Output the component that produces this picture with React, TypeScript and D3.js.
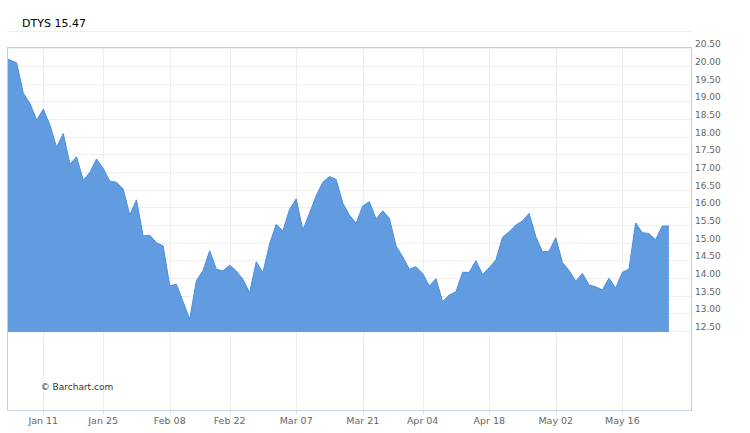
import React from "react";
import * as d3 from "d3";

const title = "DTYS 15.47";
const credit = "© Barchart.com";

// Daily closes, trading days from Dec 31 2015 to May 25 2016
const values = [
  20.25, 20.17, 20.09, 19.23, 18.94, 18.47, 18.78, 18.33, 17.7, 18.09,
  17.22, 17.43, 16.77, 16.99, 17.37, 17.1, 16.74, 16.71, 16.52, 15.78,
  16.21, 15.19, 15.21, 15.0, 14.91, 13.78, 13.82, 13.33, 12.83, 13.92,
  14.21, 14.77, 14.25, 14.2, 14.36, 14.2, 13.96, 13.58, 14.46, 14.15,
  14.96, 15.52, 15.33, 15.94, 16.24, 15.36, 15.83, 16.33, 16.71, 16.87,
  16.79, 16.12, 15.78, 15.55, 16.04, 16.16, 15.67, 15.9, 15.69, 14.91,
  14.6, 14.25, 14.32, 14.13, 13.77, 13.98, 13.33, 13.52, 13.61, 14.16,
  14.16, 14.49, 14.1, 14.29, 14.51, 15.15, 15.31, 15.5, 15.61, 15.83,
  15.17, 14.74, 14.76, 15.14, 14.44, 14.21, 13.91, 14.13, 13.8, 13.75,
  13.66, 13.99, 13.71, 14.16, 14.25, 15.56, 15.28, 15.26, 15.08, 15.47,
  15.47,
];

const tickLabels = ["Jan 11", "Jan 25", "Feb 08", "Feb 22", "Mar 07", "Mar 21", "Apr 04", "Apr 18", "May 02", "May 16"];
const tickIndex = [6, 15, 25, 34, 44, 54, 63, 73, 83, 93];

const yTicks = d3.range(12.5, 20.51, 0.5);

const W = 750;
const H = 433;
const left = 7;
const right = 691;
const top = 47;
const priceBottom = 332;
const bottom = 410;

export default function App() {
  const x = d3.scaleLinear().domain([0, values.length - 1]).range([3.37, 668.9]);
  const y = d3.scaleLinear().domain([12.47, 20.54]).range([priceBottom, top]);

  const area = d3
    .area<number>()
    .x((_, i) => x(i))
    .y0(priceBottom)
    .y1((d) => y(d));
  const line = d3
    .line<number>()
    .x((_, i) => x(i))
    .y((d) => y(d));

  const font = "'DejaVu Sans', Verdana, sans-serif";

  return (
    <div style={{ position: "absolute", left: 0, top: 0 }}>
      <svg width={W} height={H} style={{ display: "block", background: "#fff" }}>
        <defs>
          <clipPath id="plotClip">
            <rect x={left} y={top} width={right - left} height={bottom - top} />
          </clipPath>
        </defs>
        <text x={22} y={26.5} fontFamily={font} fontSize={11} fill="#000">
          {title}
        </text>
        <line x1={left} x2={692} y1={31.5} y2={31.5} stroke="#eeeeee" />

        {/* horizontal grid */}
        {yTicks.map((t) => (
          <line
            key={"h" + t}
            x1={left}
            x2={right}
            y1={Math.round(y(t)) + 0.5}
            y2={Math.round(y(t)) + 0.5}
            stroke="#efefef"
          />
        ))}
        {/* vertical grid */}
        {tickIndex.map((ti) => (
          <line
            key={"v" + ti}
            x1={Math.round(x(ti)) + 0.5}
            x2={Math.round(x(ti)) + 0.5}
            y1={top}
            y2={bottom}
            stroke="#efefef"
          />
        ))}
        {tickIndex.map((ti) => (
          <line
            key={"t" + ti}
            x1={Math.round(x(ti)) + 0.5}
            x2={Math.round(x(ti)) + 0.5}
            y1={bottom}
            y2={bottom + 4}
            stroke="#d4e0ec"
          />
        ))}

        <g clipPath="url(#plotClip)">
          <path d={area(values) || ""} fill="#629ce0" />
          <path d={line(values) || ""} fill="none" stroke="#4a8ede" strokeWidth={1} />
        </g>

        {/* frame */}
        <line x1={left + 0.5} x2={left + 0.5} y1={top} y2={bottom} stroke="#cccccc" />
        <line x1={left} x2={right + 1} y1={top + 0.5} y2={top + 0.5} stroke="#cccccc" />
        <line x1={right + 0.5} x2={right + 0.5} y1={top} y2={bottom} stroke="#cccccc" />
        <line x1={left} x2={right + 1} y1={bottom + 0.5} y2={bottom + 0.5} stroke="#c3d4e6" />

        {/* y labels */}
        {yTicks.map((t) => (
          <text key={"yl" + t} x={695} y={y(t) - 1} fontFamily={font} fontSize={9} fill="#666">
            {t.toFixed(2)}
          </text>
        ))}
        {/* x labels */}
        {tickIndex.map((ti, k) => (
          <text
            key={"xl" + ti}
            x={x(ti)}
            y={423.5}
            textAnchor="middle"
            fontFamily={font}
            fontSize={9.5}
            fill="#666"
          >
            {tickLabels[k]}
          </text>
        ))}

        <text x={40.7} y={390} fontFamily={font} fontSize={9} fill="#333">
          {credit}
        </text>
      </svg>
    </div>
  );
}
